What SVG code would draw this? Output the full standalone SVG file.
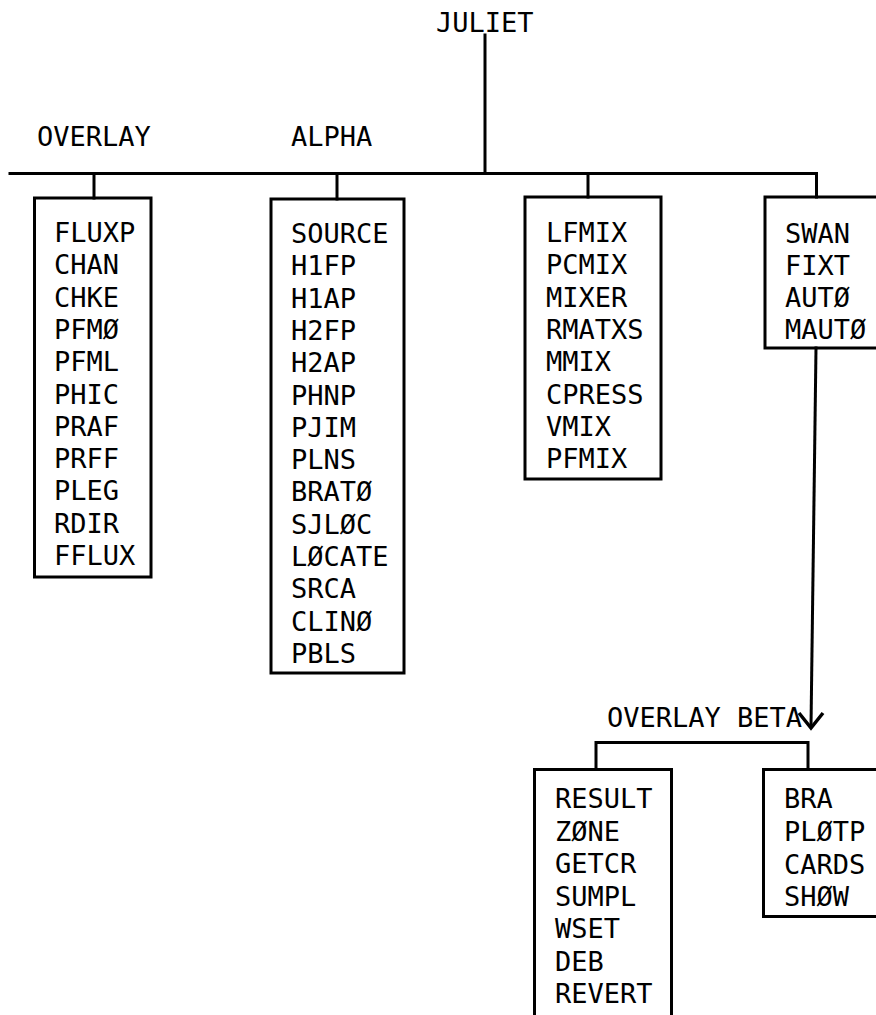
<svg xmlns="http://www.w3.org/2000/svg" width="876" height="1015" viewBox="0 0 876 1015">
<style>
.t{font-family:"DejaVu Sans Mono","Liberation Mono",monospace;font-size:27px;fill:#000}
.box{fill:none;stroke:#000;stroke-width:3}
.ln{fill:none;stroke:#000;stroke-width:3;stroke-linecap:square}
</style>
<rect width="876" height="1015" fill="#fff"/>
<g id="connectors">
<path class="ln" d="M485,35 V173.5"/>
<path class="ln" d="M10,173.5 H816.5 V197"/>
<path class="ln" d="M94,173.5 V198"/>
<path class="ln" d="M337,173.5 V199"/>
<path class="ln" d="M588,173.5 V197"/>
<path class="ln" d="M816,348 L811,726"/>
<path d="M799,713 L811,728 L823,713" fill="none" stroke="#000" stroke-width="3.5" stroke-linejoin="miter"/>
<path class="ln" d="M596,769 V742.5 H808 V769"/>
</g>
<g id="juliet"><text class="t" x="436" y="32">JULIET</text></g>
<g id="overlay-label"><text class="t" x="37" y="146">OVERLAY</text></g>
<g id="alpha-label"><text class="t" x="291" y="146">ALPHA</text></g>
<g id="box-overlay">
<rect class="box" x="34.5" y="198" width="116.5" height="379"/>
<text class="t" x="54" y="242">FLUXP<tspan x="54" dy="32.3">CHAN</tspan><tspan x="54" dy="32.3">CHKE</tspan><tspan x="54" dy="32.3">PFMØ</tspan><tspan x="54" dy="32.3">PFML</tspan><tspan x="54" dy="32.3">PHIC</tspan><tspan x="54" dy="32.3">PRAF</tspan><tspan x="54" dy="32.3">PRFF</tspan><tspan x="54" dy="32.3">PLEG</tspan><tspan x="54" dy="32.3">RDIR</tspan><tspan x="54" dy="32.3">FFLUX</tspan></text>
</g>
<g id="box-alpha">
<rect class="box" x="271" y="199" width="133" height="474"/>
<text class="t" x="291" y="243">SOURCE<tspan x="291" dy="32.3">H1FP</tspan><tspan x="291" dy="32.3">H1AP</tspan><tspan x="291" dy="32.3">H2FP</tspan><tspan x="291" dy="32.3">H2AP</tspan><tspan x="291" dy="32.3">PHNP</tspan><tspan x="291" dy="32.3">PJIM</tspan><tspan x="291" dy="32.3">PLNS</tspan><tspan x="291" dy="32.3">BRATØ</tspan><tspan x="291" dy="32.3">SJLØC</tspan><tspan x="291" dy="32.3">LØCATE</tspan><tspan x="291" dy="32.3">SRCA</tspan><tspan x="291" dy="32.3">CLINØ</tspan><tspan x="291" dy="32.3">PBLS</tspan></text>
</g>
<g id="box-mix">
<rect class="box" x="525" y="197" width="136" height="282"/>
<text class="t" x="546" y="242">LFMIX<tspan x="546" dy="32.3">PCMIX</tspan><tspan x="546" dy="32.3">MIXER</tspan><tspan x="546" dy="32.3">RMATXS</tspan><tspan x="546" dy="32.3">MMIX</tspan><tspan x="546" dy="32.3">CPRESS</tspan><tspan x="546" dy="32.3">VMIX</tspan><tspan x="546" dy="32.3">PFMIX</tspan></text>
</g>
<g id="box-swan">
<rect class="box" x="765" y="197" width="120" height="151"/>
<text class="t" x="785" y="243">SWAN<tspan x="785" dy="31.9">FIXT</tspan><tspan x="785" dy="31.9">AUTØ</tspan><tspan x="785" dy="31.9">MAUTØ</tspan></text>
</g>
<g id="overlay-beta-label"><text class="t" x="607" y="727">OVERLAY BETA</text></g>
<g id="box-result">
<rect class="box" x="534.5" y="769.5" width="137" height="260"/>
<text class="t" x="555" y="808">RESULT<tspan x="555" dy="32.5">ZØNE</tspan><tspan x="555" dy="32.5">GETCR</tspan><tspan x="555" dy="32.5">SUMPL</tspan><tspan x="555" dy="32.5">WSET</tspan><tspan x="555" dy="32.5">DEB</tspan><tspan x="555" dy="32.5">REVERT</tspan></text>
</g>
<g id="box-bra">
<rect class="box" x="763.5" y="769.5" width="122" height="147"/>
<text class="t" x="784" y="808">BRA<tspan x="784" dy="32.8">PLØTP</tspan><tspan x="784" dy="32.8">CARDS</tspan><tspan x="784" dy="32.8">SHØW</tspan></text>
</g>
</svg>
